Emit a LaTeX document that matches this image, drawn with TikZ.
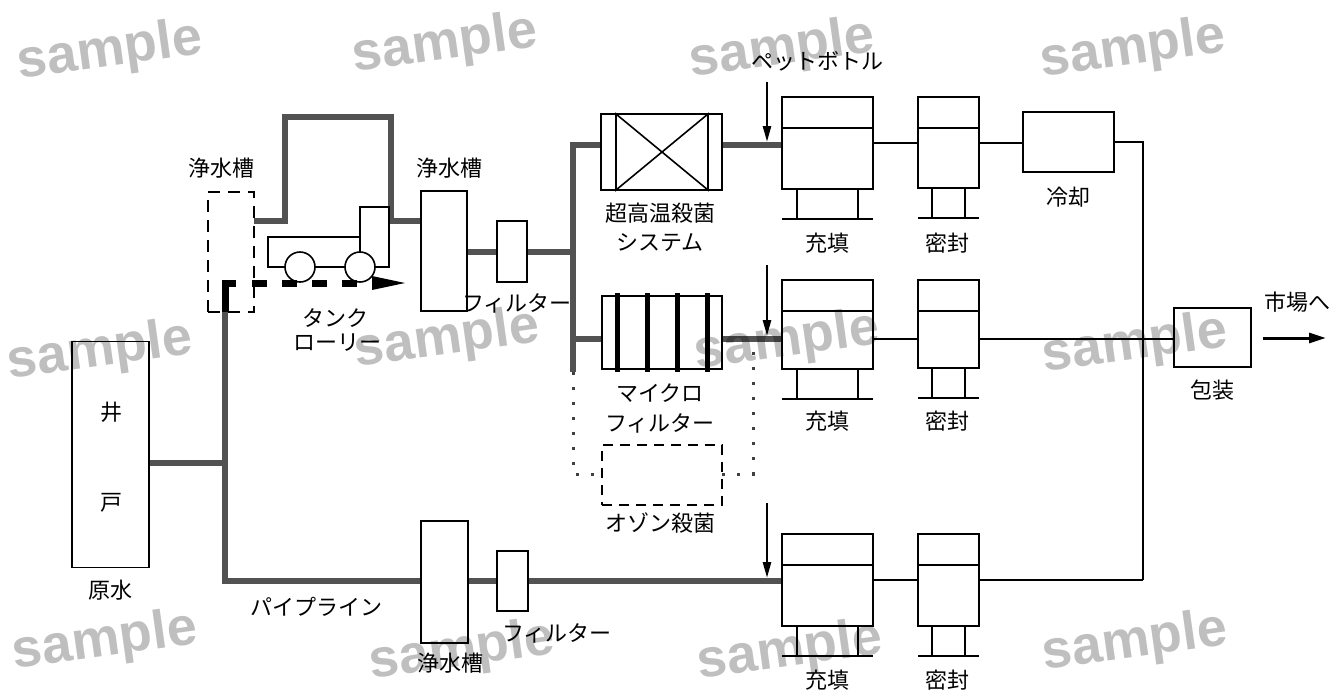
\documentclass[tikz,border=0pt]{standalone}
\usepackage{fontspec}
\setmainfont{Noto Sans CJK JP}
\newfontfamily\markfont{Liberation Sans}
\usetikzlibrary{arrows.meta,backgrounds}

\begin{document}
\begin{tikzpicture}[x=1pt,y=-1pt,
  pipe/.style={line width=6.5pt,black!68,line join=miter},
  wire/.style={line width=1.4pt},
  unit/.style={draw,line width=1.6pt,fill=white,inner sep=0pt,outer sep=0pt},
  fillbox/.style={unit,minimum width=91pt},
  sealbox/.style={unit,minimum width=61pt},
  lbl/.style={font=\fontsize{22}{26}\selectfont,inner sep=0pt},
  feed/.style={line width=2.6pt,-{Triangle[length=16pt,width=8pt]},shorten >=3pt},
  bypass/.style={line width=3pt,black!75,dash pattern=on 3pt off 12pt},
  wmark/.style={font=\markfont\bfseries\fontsize{54}{60}\selectfont,text=black,text opacity=0.25,rotate=8}]
  \useasboundingbox (0,0) rectangle (1340,697);

  % levels of the three lines
  \coordinate (r1) at (0,145);
  \coordinate (r2) at (0,339);
  \coordinate (r3) at (0,581);
  \coordinate (lorry) at (0,221);
  \coordinate (split) at (573,252);
  \coordinate (dtop) at (573,145);
  \coordinate (dend) at (573,372);
  \coordinate (jw) at (225,463);
  \coordinate (trunk) at (225,581);
  \coordinate (bus) at (1143,580);

  % units
  \node[unit,minimum width=77pt,minimum height=226pt] (well) at (110.5,454.5) {};
  \node[unit,fill=none,dash pattern=on 12pt off 8pt,minimum width=46pt,minimum height=120pt] (tank0) at (231,252) {};
  \node[unit,minimum width=46pt,minimum height=120pt] (tank1) at (444,251) {};
  \node[unit,minimum width=30pt,minimum height=61pt] (filt1) at (512,251.5) {};
  \node[unit,minimum width=47pt,minimum height=122pt] (tank2) at (444.5,582) {};
  \node[unit,minimum width=31pt,minimum height=60pt] (filt2) at (512.5,581) {};
  \node[unit,minimum width=121pt,minimum height=76pt] (uht) at (661.5,152) {};
  \node[unit,minimum width=120pt,minimum height=73pt] (micro) at (662,332.5) {};
  \node[unit,fill=none,dash pattern=on 10pt off 7pt,minimum width=120pt,minimum height=60pt] (ozone) at (662,475) {};
  \node[fillbox,minimum height=92pt] (fill1) at (827.5,143) {};
  \node[fillbox,minimum height=89pt] (fill2) at (827.5,324.5) {};
  \node[fillbox,minimum height=92pt] (fill3) at (827.5,580) {};
  \node[sealbox,minimum height=91pt] (seal1) at (948.5,142.5) {};
  \node[sealbox,minimum height=88pt] (seal2) at (948.5,324) {};
  \node[sealbox,minimum height=92pt] (seal3) at (948.5,580) {};
  \node[unit,minimum width=91pt,minimum height=60pt] (cool) at (1068.5,142) {};
  \node[unit,minimum width=77pt,minimum height=59pt] (pack) at (1212.5,337.5) {};

  \foreach \u/\d in {fill1/15,fill2/15,fill3/15,seal1/14,seal2/14,seal3/14} {
    \draw[wire,line width=1.6pt] ([yshift=-31pt]\u.north west) -- ([yshift=-31pt]\u.north east);
    \draw[wire,line width=1.6pt] ([xshift=\d pt]\u.south west) -- ++(0,30);
    \draw[wire,line width=1.6pt] ([xshift=-\d pt]\u.south east) -- ++(0,30);
    \draw[wire,line width=1.6pt] ([yshift=-30pt]\u.south west) -- ([yshift=-30pt]\u.south east);
  }
  \draw[line width=1.6pt] ([xshift=15pt]uht.north west) -- ([xshift=15pt]uht.south west)
    -- ([xshift=-14pt]uht.north east) -- ([xshift=-14pt]uht.south east) -- cycle;
  \foreach \dx in {15,45,75,105}
    \draw[line width=5pt] ([xshift=\dx pt,yshift=3pt]micro.north west) -- ([xshift=\dx pt,yshift=-3pt]micro.south west);

  % tank lorry
  \draw[line width=1.6pt,fill=white] (268,237) rectangle (360,267);
  \draw[line width=1.6pt,fill=white] (360,207) rectangle (389,267);
  \foreach \x in {300,360}
    \draw[line width=1.6pt,fill=white] (\x,267) circle (15);
  \draw[line width=7pt,line join=miter] (236,283) -- (225,283) -- (225,312);
  \foreach \x in {252,282,312,342}
    \fill (\x,279.5) rectangle ++(15,7);
  \fill (372,276) -- (405,283) -- (372,290) -- cycle;

  \begin{scope}[on background layer]
    \fill[white] (0,0) rectangle (1340,697);
    \draw[pipe] (well.east |- jw) -- (jw);
    \draw[pipe] (225,310) -- (trunk) -- (tank2.west |- trunk);
    \draw[pipe] (tank2.east |- r3) -- (filt2.west |- r3);
    \draw[pipe] (filt2.east |- r3) -- (fill3.west |- r3);
    \draw[pipe] (tank0.east |- lorry) -- (285,221) -- (285,117) -- (391,117) -- (391,221) -- (tank1.west |- lorry);
    \draw[pipe] (tank1.east |- split) -- (filt1.west |- split);
    \draw[pipe] (filt1.east |- split) -- (split);
    \draw[pipe] (uht.west |- dtop) -- (dtop) -- (dend);
    \draw[pipe] (dend |- r2) -- (micro.west |- r2);
    \draw[pipe] (uht.east |- r1) -- (fill1.west |- r1);
    \draw[pipe] (micro.east |- r2) -- (fill2.west |- r2);
    \draw[bypass] (dend) -- (573,474) -- (ozone.west |- 0,474);
    \draw[bypass] (ozone.east |- 0,474) -- (753,474) -- (753,342);
  \end{scope}

  % bottles fed in
  \coordinate (pet1) at (767,82);
  \coordinate (pet2) at (767,265);
  \coordinate (pet3) at (767,503);
  \draw[feed] (pet1) -- (pet1 |- r1);
  \draw[feed] (pet2) -- (pet2 |- r2);
  \draw[feed] (pet3) -- (pet3 |- r3);

  \draw[wire] (fill1.east) -- (seal1.west |- fill1.east);
  \draw[wire] (seal1.east |- fill1.east) -- (cool.west |- fill1.east);
  \draw[wire] (cool.east) -| (bus);
  \draw[wire] (bus) -- (seal3.east);
  \draw[wire] (fill3.east) -- (seal3.west);
  \draw[wire] (fill2.east |- r2) -- (seal2.west |- r2);
  \draw[wire] (seal2.east |- r2) -- (pack.west |- r2);
  \coordinate (out) at (1263,338);
  \draw[line width=3pt,-{Triangle[length=17pt,width=10pt]}] (out) -- ++(63,0);

  % labels
  \node[lbl] (l-i) at (111,412) {井};
  \node[lbl] (l-to) at (111,503) {戸};
  \node[lbl] (l-raw) at (110,590) {原水};
  \node[lbl] (l-pipe) at (316,607) {パイプライン};
  \node[lbl] (l-tank0) at (221,168) {浄水槽};
  \node[lbl] (l-tank1) at (449,168) {浄水槽};
  \node[lbl] (l-tank2) at (450,663) {浄水槽};
  \node[lbl] (l-lorry1) at (335,318) {タンク};
  \node[lbl] (l-lorry2) at (337,343) {ローリー};
  \node[lbl] (l-filt1) at (517,303) {フィルター};
  \node[lbl] (l-filt2) at (557,633) {フィルター};
  \node[lbl] (l-uht1) at (660,213) {超高温殺菌};
  \node[lbl] (l-uht2) at (660,243) {システム};
  \node[lbl] (l-mf1) at (660,393) {マイクロ};
  \node[lbl] (l-mf2) at (660,423) {フィルター};
  \node[lbl] (l-ozone) at (660,523) {オゾン殺菌};
  \node[lbl] (l-pet) at (817,61) {ペットボトル};
  \foreach \y [count=\i] in {243,421,680} {
    \node[lbl] (l-fill\i) at (827,\y) {充填};
    \node[lbl] (l-seal\i) at (947,\y) {密封};
  }
  \node[lbl] (l-cool) at (1068,197) {冷却};
  \node[lbl] (l-pack) at (1212,390) {包装};
  \node[lbl] (l-market) at (1297,302) {市場へ};

  % watermark
  \foreach \x/\y [count=\i] in {110/52,445/45,782/50,1133/50,100/352,447/340,787/342,1135/345,105/642,462/652,790/652,1135/643}
    \node[wmark] (wm\i) at (\x,\y) {sample};
\end{tikzpicture}
\end{document}
